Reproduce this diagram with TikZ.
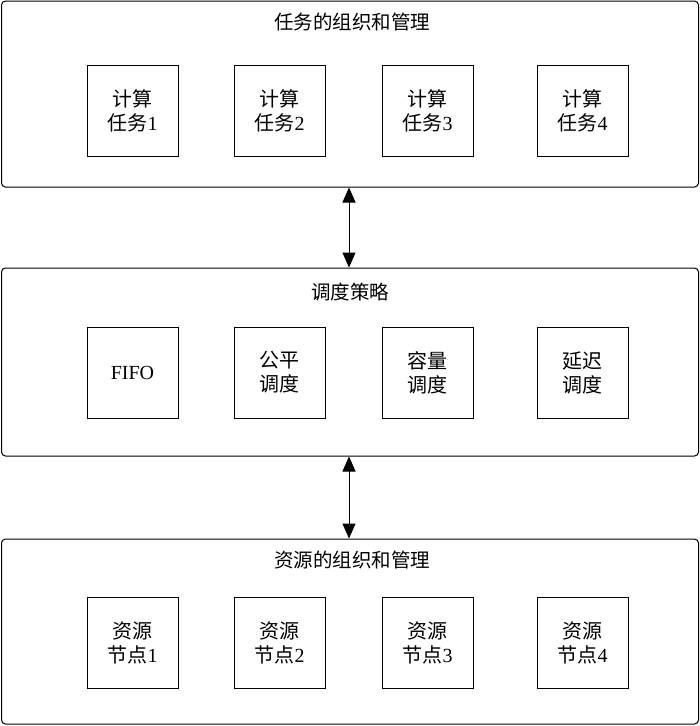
\documentclass[tikz,border=0pt]{standalone}
\usepackage{fontspec}
\setmainfont{Liberation Serif}
\newfontfamily\cjk{Noto Sans CJK SC}
\usetikzlibrary{arrows.meta}
\begin{document}
\begin{tikzpicture}[x=1pt,y=-1pt,
  outerbox/.style={draw, line width=1pt, rounded corners=4pt, minimum width=697pt, inner sep=0pt},
  innerbox/.style={draw, line width=1pt, minimum width=91pt, minimum height=91pt, inner sep=0pt, align=center, font=\fontsize{20}{24}\selectfont},
  title/.style={font=\cjk\fontsize{19.5}{22}\selectfont, inner sep=0pt},
  arr/.style={line width=1pt, {Triangle[length=15pt,width=13pt]}-{Triangle[length=15pt,width=13pt]}}]
\useasboundingbox (0,0) rectangle (700,726);
% outer boxes
\node[outerbox, minimum height=186pt] (top) at (350,94) {};
\node[outerbox, minimum height=188pt] (mid) at (350,362) {};
\node[outerbox, minimum height=185pt] (bot) at (350,631.5) {};
% titles
\node[title] (t1) at (352,22) {任务的组织和管理};
\node[title] (t2) at (350,292) {调度策略};
\node[title] (t3) at (352,560) {资源的组织和管理};
% top row
\node[innerbox] (a1) at (132.5,110.5) {{\cjk 计算}\\{\cjk 任务}1};
\node[innerbox] (a2) at (279.5,110.5) {{\cjk 计算}\\{\cjk 任务}2};
\node[innerbox] (a3) at (427.5,110.5) {{\cjk 计算}\\{\cjk 任务}3};
\node[innerbox] (a4) at (582.5,110.5) {{\cjk 计算}\\{\cjk 任务}4};
% middle row
\node[innerbox] (b1) at (132.5,372.5) {FIFO};
\node[innerbox] (b2) at (279.5,372.5) {{\cjk 公平}\\{\cjk 调度}};
\node[innerbox] (b3) at (427.5,372.5) {{\cjk 容量}\\{\cjk 调度}};
\node[innerbox] (b4) at (582.5,372.5) {{\cjk 延迟}\\{\cjk 调度}};
% bottom row
\node[innerbox] (c1) at (132.5,643) {{\cjk 资源}\\{\cjk 节点}1};
\node[innerbox] (c2) at (279.5,643) {{\cjk 资源}\\{\cjk 节点}2};
\node[innerbox] (c3) at (427.5,643) {{\cjk 资源}\\{\cjk 节点}3};
\node[innerbox] (c4) at (582.5,643) {{\cjk 资源}\\{\cjk 节点}4};
% arrows
\draw[arr] ([xshift=-1pt]top.south) -- ([xshift=-1pt]mid.north);
\draw[arr] ([xshift=-1pt]mid.south) -- ([xshift=-1pt]bot.north);
\end{tikzpicture}
\end{document}
